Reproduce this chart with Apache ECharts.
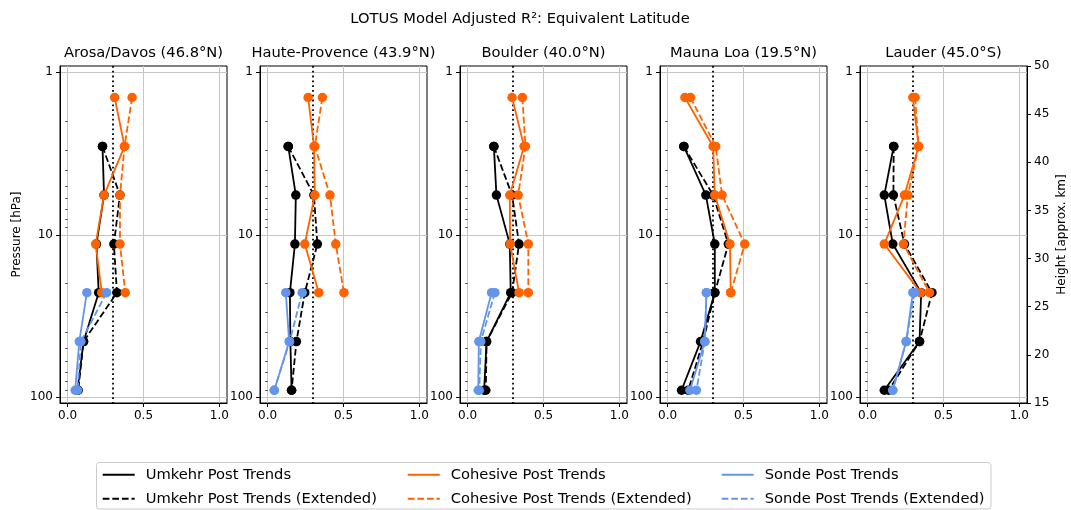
<!DOCTYPE html>
<html>
<head>
<meta charset="utf-8">
<script src="https://cdn.jsdelivr.net/npm/echarts@6/dist/echarts.min.js"></script>
<style>
html,body{margin:0;padding:0;background:#ffffff;}
#chart{width:1071px;height:510px;}
</style>
</head>
<body>
<div id="chart"></div>
<script>
// ---------------- data ----------------
const suptitle = 'LOTUS Model Adjusted R²: Equivalent Latitude';
const stations = ['Arosa/Davos (46.8°N)', 'Haute-Provence (43.9°N)', 'Boulder (40.0°N)', 'Mauna Loa (19.5°N)', 'Lauder (45.0°S)'];
const pressureLevels = [1.43, 2.86, 5.7, 11.4, 22.7, 45.4, 90.5];   // hPa (Umkehr layer centres)
const pressureTicks = [1, 10, 100];
const pressureMinorTicks = [2, 3, 4, 5, 6, 7, 8, 9, 20, 30, 40, 50, 60, 70, 80, 90];
const r2Ticks = [0, 0.5, 1.0];
const threshold = 0.3;
const seriesNames = ['Umkehr Post Trends', 'Umkehr Post Trends (Extended)', 'Cohesive Post Trends',
                     'Cohesive Post Trends (Extended)', 'Sonde Post Trends', 'Sonde Post Trends (Extended)'];

// R² per station (rows) and per pressure level (columns); null = no value
const umkehrPost = [
  [null, 0.23, 0.24, 0.19, 0.205, 0.105, 0.065],
  [null, 0.136, 0.186, 0.18, 0.147, 0.15, 0.158],
  [null, 0.173, 0.19, 0.278, 0.284, 0.125, 0.109],
  [null, 0.107, 0.252, 0.311, 0.311, 0.217, 0.092],
  [null, 0.172, 0.11, 0.166, 0.353, 0.342, 0.11]
];
const umkehrExtended = [
  [null, 0.23, 0.345, 0.305, 0.325, 0.105, 0.07],
  [null, 0.136, 0.305, 0.328, 0.245, 0.19, 0.158],
  [null, 0.173, 0.293, 0.339, 0.293, 0.125, 0.12],
  [null, 0.107, 0.3, 0.4, 0.311, 0.234, 0.136],
  [null, 0.172, 0.17, 0.243, 0.424, 0.342, 0.139]
];
const cohesivePost = [
  [0.31, 0.375, 0.24, 0.185, 0.225, null, null],
  [0.267, 0.306, 0.311, 0.245, 0.337, null, null],
  [0.293, 0.372, 0.278, 0.28, 0.339, null, null],
  [0.114, 0.3, 0.311, 0.411, 0.416, null, null],
  [0.298, 0.336, 0.243, 0.11, 0.349, null, null]
];
const cohesiveExtended = [
  [0.425, 0.375, 0.345, 0.345, 0.38, null, null],
  [0.361, 0.311, 0.411, 0.449, 0.503, null, null],
  [0.361, 0.381, 0.333, 0.4, 0.4, null, null],
  [0.151, 0.317, 0.359, 0.508, 0.416, null, null],
  [0.313, 0.336, 0.265, 0.236, 0.408, null, null]
];
const sondePost = [
  [null, null, null, null, 0.127, 0.077, 0.05],
  [null, null, null, null, 0.12, 0.142, 0.044],
  [null, null, null, null, 0.158, 0.074, 0.07],
  [null, null, null, null, 0.256, 0.245, 0.147],
  [null, null, null, null, 0.298, 0.254, 0.166]
];
const sondeExtended = [
  [null, null, null, null, 0.257, 0.088, 0.066],
  [null, null, null, null, 0.228, 0.145, 0.044],
  [null, null, null, null, 0.18, 0.087, 0.077],
  [null, null, null, null, 0.256, 0.245, 0.19],
  [null, null, null, null, 0.309, 0.254, 0.166]
];

// ---------------- styles / layout ----------------
const FONT = 'DejaVu Sans';
const BLACK = '#000000', ORANGE = '#ff6200', BLUE = '#6495ed';
const GRID_COLOR = '#c6c6c6';
const DASH = [6.7, 2.9];
const styles = [
  {color: BLACK, dash: 'solid'}, {color: BLACK, dash: DASH},
  {color: ORANGE, dash: 'solid'}, {color: ORANGE, dash: DASH},
  {color: BLUE, dash: 'solid'}, {color: BLUE, dash: DASH}
];
const tables = [umkehrPost, umkehrExtended, cohesivePost, cohesiveExtended, sondePost, sondeExtended];
const P_MIN = 0.915, P_MAX = 108.4;
const BIG = 14.7;

const grids = [], xAxes = [], yAxes = [], series = [];
const titles = [{
  text: suptitle, left: 520, top: 19.3, textAlign: 'center', textVerticalAlign: 'middle', padding: 0,
  textStyle: {fontFamily: FONT, fontSize: BIG, fontWeight: 'normal', color: BLACK}
}];
const tickLabel = {fontFamily: FONT, fontSize: 12, color: BLACK};

stations.forEach((st, i) => {
  const left = 60 + 200 * i;
  grids.push({left: left, top: 66, width: 167, height: 337, show: true, borderColor: BLACK, borderWidth: 1,
              backgroundColor: 'transparent', containLabel: false, outerBoundsMode: 'none'});
  titles.push({text: st, left: left + 83.5, top: 53.5, textAlign: 'center', textVerticalAlign: 'middle', padding: 0,
               textStyle: {fontFamily: FONT, fontSize: BIG, fontWeight: 'normal', color: BLACK}});
  xAxes.push({
    gridIndex: i, type: 'value', min: -0.05, max: 1.05,
    axisLine: {show: true, onZero: false, lineStyle: {color: BLACK, width: 1}},
    axisTick: {show: true, customValues: r2Ticks, length: 4, lineStyle: {color: BLACK, width: 1}},
    axisLabel: Object.assign({customValues: r2Ticks, margin: 7, formatter: v => Number(v).toFixed(1)}, tickLabel),
    splitLine: {show: true, lineStyle: {color: GRID_COLOR, width: 1}}
  });
  const yIdx = yAxes.length;
  yAxes.push({
    gridIndex: i, type: 'log', logBase: 10, min: P_MIN, max: P_MAX, inverse: true, position: 'left',
    axisLine: {show: true, onZero: false, lineStyle: {color: BLACK, width: 1}},
    axisTick: {show: true, customValues: pressureTicks, length: 4, lineStyle: {color: BLACK, width: 1}},
    axisLabel: Object.assign({customValues: pressureTicks, margin: 7, formatter: v => String(Math.round(v))}, tickLabel),
    splitLine: {show: true, lineStyle: {color: GRID_COLOR, width: 1}},
    name: i === 0 ? 'Pressure [hPa]' : '', nameLocation: 'middle', nameGap: 37, nameMoveOverlap: false,
    nameTextStyle: {fontFamily: FONT, fontSize: 12, color: BLACK}
  });
  yAxes.push({
    gridIndex: i, type: 'log', logBase: 10, min: P_MIN, max: P_MAX, inverse: true, position: 'left',
    axisLine: {show: false},
    axisTick: {show: true, customValues: pressureMinorTicks, length: 2.4, lineStyle: {color: BLACK, width: 0.7}},
    axisLabel: {show: false}, splitLine: {show: false}
  });
  if (i === stations.length - 1) {
    yAxes.push({
      gridIndex: i, type: 'value', min: 15, max: 50, interval: 5, position: 'right',
      axisLine: {show: true, onZero: false, lineStyle: {color: BLACK, width: 1}},
      axisTick: {show: true, length: 4, lineStyle: {color: BLACK, width: 1}},
      axisLabel: Object.assign({margin: 7}, tickLabel),
      splitLine: {show: false},
      name: 'Height [approx. km]', nameLocation: 'middle', nameGap: 29, nameMoveOverlap: false,
      nameTextStyle: {fontFamily: FONT, fontSize: 12, color: BLACK}
    });
  }
  tables.forEach((tbl, k) => {
    const row = tbl[i];
    const data = [];
    pressureLevels.forEach((p, j) => { if (row[j] != null) data.push([row[j], p]); });
    const s = {
      name: seriesNames[k], type: 'line', xAxisIndex: i, yAxisIndex: yIdx, data: data,
      symbol: 'circle', symbolSize: 9.5, showSymbol: true, clip: false,
      lineStyle: {color: styles[k].color, width: 1.8, type: styles[k].dash},
      itemStyle: {color: styles[k].color},
      emphasis: {disabled: true}, z: 3 + k
    };
    if (k === 0) {
      s.markLine = {
        silent: true, symbol: 'none', label: {show: false}, animation: false,
        lineStyle: {color: BLACK, type: [1.8, 3], width: 1.8},
        emphasis: {disabled: true},
        data: [{xAxis: threshold}]
      };
    }
    series.push(s);
  });
});

// legend: 3 columns x 2 rows (column-major as in the reference)
const legendCols = [101.7, 406.8, 720.7];
const legendRows = [467.3, 491.3];
const legends = seriesNames.map((nm, k) => ({
  data: [nm], left: legendCols[Math.floor(k / 2)], top: legendRows[k % 2],
  orient: 'horizontal', padding: 0, itemWidth: 32, itemHeight: 14, itemGap: 0, selectedMode: false,
  itemStyle: {opacity: 0},
  textStyle: {fontFamily: FONT, fontSize: BIG, color: BLACK, padding: [0, 0, 0, 6]}
}));

const chart = echarts.init(document.getElementById('chart'), null, {renderer: 'canvas'});
chart.setOption({
  animation: false,
  backgroundColor: '#ffffff',
  title: titles,
  grid: grids,
  xAxis: xAxes,
  yAxis: yAxes,
  legend: legends,
  tooltip: {show: false},
  graphic: [{
    type: 'rect', silent: true, z: -10,
    shape: {x: 96.5, y: 462.5, width: 894.5, height: 46.5, r: 3},
    style: {fill: 'rgba(255,255,255,0.8)', stroke: '#cccccc', lineWidth: 1}
  }],
  series: series
});
</script>
</body>
</html>
